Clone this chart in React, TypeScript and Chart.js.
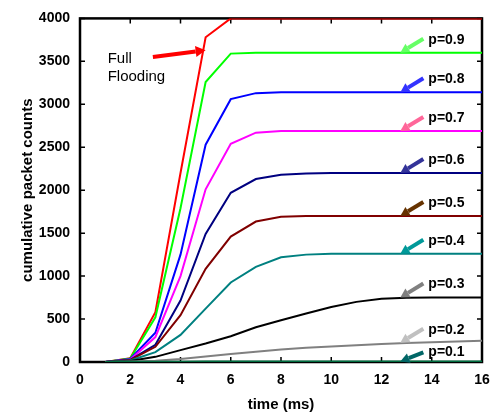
import React, { useEffect, useRef } from "react";
import { Chart, registerables } from "chart.js";

Chart.register(...registerables);

const times = [1, 2, 3, 4, 5, 6, 7, 8, 9, 10, 11, 12, 13, 14, 15, 16];

const fullFlooding = [0, 45, 580, 2200, 3780, 4000, 4000, 4000, 4000, 4000, 4000, 4000, 4000, 4000, 4000, 4000];
const p09 = [0, 40, 520, 1790, 3260, 3590, 3600, 3600, 3600, 3600, 3600, 3600, 3600, 3600, 3600, 3600];
const p08 = [0, 35, 340, 1250, 2530, 3060, 3130, 3140, 3140, 3140, 3140, 3140, 3140, 3140, 3140, 3140];
const p07 = [0, 30, 290, 1000, 2010, 2540, 2670, 2690, 2690, 2690, 2690, 2690, 2690, 2690, 2690, 2690];
const p06 = [0, 25, 200, 715, 1490, 1970, 2130, 2180, 2195, 2200, 2200, 2200, 2200, 2200, 2200, 2200];
const p05 = [0, 22, 177, 545, 1085, 1460, 1635, 1690, 1700, 1700, 1700, 1700, 1700, 1700, 1700, 1700];
const p04 = [0, 18, 115, 315, 622, 926, 1107, 1220, 1250, 1260, 1260, 1260, 1260, 1260, 1260, 1260];
const p03 = [0, 12, 60, 138, 215, 300, 405, 485, 565, 640, 700, 735, 748, 750, 750, 750];
const p02 = [0, 5, 15, 35, 65, 92, 120, 145, 165, 180, 195, 210, 220, 230, 238, 246];
const p01 = [0, 2, 3, 4, 5, 5, 6, 6, 6, 7, 7, 7, 7, 7, 7, 7];

const seriesNames = ["Full Flooding", "p=0.9", "p=0.8", "p=0.7", "p=0.6", "p=0.5", "p=0.4", "p=0.3", "p=0.2", "p=0.1"];
const seriesValues = [fullFlooding, p09, p08, p07, p06, p05, p04, p03, p02, p01];
const seriesColors = ["#ff0000", "#00ff00", "#0000ff", "#ff00ff", "#000080", "#800000", "#008080", "#000000", "#808080", "#006e40"];

// annotation labels: text, value the arrow points to, arrow colour
const labelTexts = ["p=0.9", "p=0.8", "p=0.7", "p=0.6", "p=0.5", "p=0.4", "p=0.3", "p=0.2", "p=0.1"];
const labelValues = [3600, 3140, 2690, 2200, 1700, 1260, 750, 225, 7];
const labelArrowColors = ["#66ff66", "#3333ff", "#ff6699", "#333399", "#663300", "#009999", "#808080", "#c0c0c0", "#006666"];
const labelArrowX = 12.75;

const floodText = ["Full", "Flooding"];
const floodArrowFrom = { x: 2.9, y: 3550 };
const floodArrowTo = { x: 5.0, y: 3630 };
const floodTextAt = { x: 1.1, y: 3530 };

const xTicks = [0, 2, 4, 6, 8, 10, 12, 14, 16];
const yTicks = [0, 500, 1000, 1500, 2000, 2500, 3000, 3500, 4000];

const FONT = "'Liberation Sans', Arial, sans-serif";

function drawArrow(ctx: CanvasRenderingContext2D, x0: number, y0: number, x1: number, y1: number, color: string, width: number, headLen: number, headW: number) {
  const ang = Math.atan2(y1 - y0, x1 - x0);
  const bx = x1 - headLen * Math.cos(ang);
  const by = y1 - headLen * Math.sin(ang);
  ctx.save();
  ctx.strokeStyle = color;
  ctx.fillStyle = color;
  ctx.lineWidth = width;
  ctx.lineCap = "butt";
  ctx.beginPath();
  ctx.moveTo(x0, y0);
  ctx.lineTo(bx, by);
  ctx.stroke();
  ctx.beginPath();
  ctx.moveTo(x1, y1);
  ctx.lineTo(bx + (headW / 2) * Math.sin(ang), by - (headW / 2) * Math.cos(ang));
  ctx.lineTo(bx - (headW / 2) * Math.sin(ang), by + (headW / 2) * Math.cos(ang));
  ctx.closePath();
  ctx.fill();
  ctx.restore();
}

const framePlugin = {
  id: "frame",
  beforeDatasetsDraw(chart: any) {
    const { ctx, chartArea } = chart;
    const xs = chart.scales.x;
    const ys = chart.scales.y;
    ctx.save();
    ctx.strokeStyle = "#000";
    ctx.lineWidth = 1.5;
    xTicks.forEach((t) => {
      const px = xs.getPixelForValue(t);
      ctx.beginPath();
      ctx.moveTo(px, chartArea.bottom);
      ctx.lineTo(px, chartArea.bottom - 5);
      ctx.moveTo(px, chartArea.top);
      ctx.lineTo(px, chartArea.top + 5);
      ctx.stroke();
    });
    yTicks.forEach((t) => {
      const py = ys.getPixelForValue(t);
      ctx.beginPath();
      ctx.moveTo(chartArea.left, py);
      ctx.lineTo(chartArea.left + 5, py);
      ctx.moveTo(chartArea.right, py);
      ctx.lineTo(chartArea.right - 5, py);
      ctx.stroke();
    });
    ctx.lineWidth = 2.5;
    ctx.strokeRect(chartArea.left, chartArea.top, chartArea.right - chartArea.left, chartArea.bottom - chartArea.top);
    ctx.restore();
  },
  afterDatasetsDraw(chart: any) {
    const { ctx } = chart;
    const xs = chart.scales.x;
    const ys = chart.scales.y;
    ctx.save();
    labelTexts.forEach((txt, i) => {
      const tx = xs.getPixelForValue(labelArrowX);
      const ty = ys.getPixelForValue(labelValues[i]);
      const dy = i === labelTexts.length - 1 ? 9 : 14;
      const sx = tx + 23;
      const sy = ty - dy;
      drawArrow(ctx, sx, sy, tx, ty, labelArrowColors[i], 4, 9, 10);
      ctx.fillStyle = "#000";
      ctx.font = `bold 14px ${FONT}`;
      ctx.textAlign = "left";
      ctx.textBaseline = "middle";
      ctx.fillText(txt, sx + 5, sy + (i === labelTexts.length - 1 ? 0 : 1));
    });
    const fx0 = xs.getPixelForValue(floodArrowFrom.x);
    const fy0 = ys.getPixelForValue(floodArrowFrom.y);
    const fx1 = xs.getPixelForValue(floodArrowTo.x);
    const fy1 = ys.getPixelForValue(floodArrowTo.y);
    drawArrow(ctx, fx0, fy0, fx1, fy1, "#ff0000", 4, 10, 11);
    ctx.fillStyle = "#000";
    ctx.font = `15px ${FONT}`;
    ctx.textAlign = "left";
    ctx.textBaseline = "middle";
    const px = xs.getPixelForValue(floodTextAt.x);
    const py = ys.getPixelForValue(floodTextAt.y);
    ctx.fillText(floodText[0], px, py);
    ctx.fillText(floodText[1], px, py + 18);
    ctx.restore();
  },
};

export default function App() {
  const ref = useRef<HTMLCanvasElement>(null);
  useEffect(() => {
    document.body.style.margin = "0";
    const canvas = ref.current;
    if (!canvas) return;
    const datasets = seriesValues.map((vals, i) => ({
      label: seriesNames[i],
      data: times.map((t, j) => ({ x: t, y: vals[j] })),
      borderColor: seriesColors[i],
      backgroundColor: seriesColors[i],
      borderWidth: 2,
      pointRadius: 0,
      tension: 0,
      fill: false,
    }));
    const chart = new Chart(canvas, {
      type: "line",
      data: { datasets: datasets.slice().reverse() },
      options: {
        animation: false,
        responsive: false,
        layout: { padding: { top: 15, right: 19, left: 0, bottom: 0 } },
        plugins: { legend: { display: false }, tooltip: { enabled: false } },
        scales: {
          x: {
            type: "linear",
            min: 0,
            max: 16,
            afterFit: (s: any) => { s.height = 52; },
            afterBuildTicks: (s: any) => { s.ticks = xTicks.map((v) => ({ value: v })); },
            grid: { display: false, drawTicks: false },
            border: { display: false },
            ticks: { color: "#000", padding: 10, callback: (v: any) => String(v), font: { family: FONT, size: 14, weight: "bold" } },
            title: { display: true, text: "time (ms)", color: "#000", padding: { top: 0, bottom: 0 }, font: { family: FONT, size: 15, weight: "bold" } },
          },
          y: {
            min: 0,
            max: 4000,
            afterFit: (s: any) => { s.width = 80; },
            afterBuildTicks: (s: any) => { s.ticks = yTicks.map((v) => ({ value: v })); },
            grid: { display: false, drawTicks: false },
            border: { display: false },
            ticks: { color: "#000", padding: 10, callback: (v: any) => String(v), font: { family: FONT, size: 14, weight: "bold" } },
            title: { display: true, text: "cumulative packet counts", color: "#000", padding: { top: 19, bottom: 0 }, font: { family: FONT, size: 15, weight: "bold" } },
          },
        },
      },
      plugins: [framePlugin],
    } as any);
    return () => chart.destroy();
  }, []);
  return (
    <div style={{ width: 501, height: 414 }}>
      <canvas ref={ref} width={501} height={414} />
    </div>
  );
}
